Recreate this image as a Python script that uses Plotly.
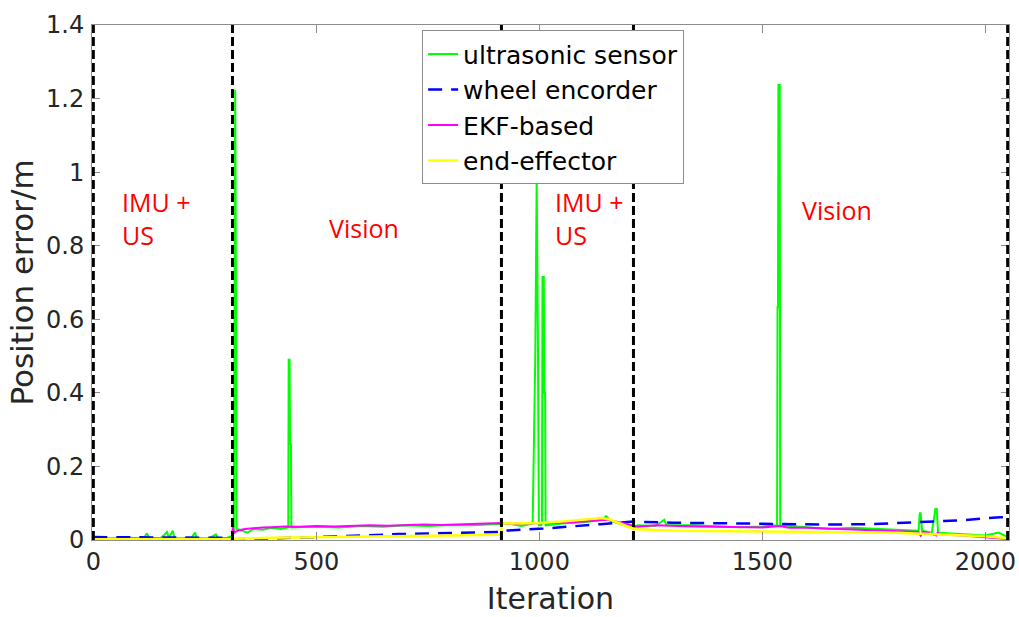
import plotly.graph_objects as go

# ---------------- data ----------------
us_iter = [0, 20, 40, 60, 80, 100, 115, 120, 125, 150, 160, 165, 170, 178, 182, 200, 220, 228, 232,
           260, 275, 280, 300, 310, 315, 317, 318, 320, 321, 330, 345, 360, 380, 400, 420, 437, 438,
           440, 441, 443, 444, 460, 500, 550, 600, 650, 700, 750, 800, 850, 900, 915, 930, 960, 985,
           991, 993, 994, 997, 998, 999, 1004, 1006, 1007, 1010, 1011, 1013, 1014, 1050, 1100, 1140,
           1150, 1160, 1211, 1220, 1260, 1280, 1285, 1350, 1400, 1450, 1500, 1533, 1534, 1535, 1536,
           1539, 1540, 1600, 1650, 1700, 1750, 1800, 1850, 1853, 1855, 1858, 1880, 1888, 1891, 1894,
           1950, 2000, 2030, 2050]
us_err = [0.004, 0.003, 0.005, 0.004, 0.006, 0.005, 0.008, 0.018, 0.006, 0.005, 0.015, 0.022, 0.006,
          0.025, 0.005, 0.004, 0.006, 0.02, 0.004, 0.005, 0.015, 0.004, 0.006, 0.01, 0.02, 1.223,
          1.223, 0.61, 0.03, 0.027, 0.02, 0.03, 0.028, 0.033, 0.03, 0.034, 0.49, 0.49, 0.26, 0.26,
          0.034, 0.035, 0.036, 0.034, 0.038, 0.036, 0.04, 0.038, 0.041, 0.04, 0.042, 0.043, 0.045,
          0.038, 0.045, 0.51, 0.98, 0.98, 0.51, 0.045, 0.04, 0.04, 0.045, 0.715, 0.715, 0.4, 0.4,
          0.04, 0.045, 0.048, 0.055, 0.065, 0.052, 0.032, 0.04, 0.038, 0.055, 0.04, 0.04, 0.037,
          0.035, 0.037, 0.04, 0.633, 0.633, 1.237, 1.237, 0.04, 0.035, 0.03, 0.033, 0.03, 0.028,
          0.025, 0.073, 0.073, 0.025, 0.02, 0.084, 0.084, 0.02, 0.015, 0.012, 0.02, 0.008]

we_iter = [0, 100, 200, 300, 312, 370, 450, 550, 684, 800, 915, 917, 1009, 1137, 1204, 1211, 1300,
           1361, 1450, 1550, 1650, 1742, 1850, 1950, 2033, 2050]
we_err = [0.008, 0.007, 0.007, 0.006, 0.002, 0.003, 0.006, 0.01, 0.016, 0.019, 0.022, 0.025, 0.031,
          0.043, 0.048, 0.05, 0.047, 0.046, 0.044, 0.043, 0.042, 0.043, 0.048, 0.054, 0.062, 0.062]

ekf_iter = [0, 100, 200, 300, 311, 313, 315, 318, 325, 340, 360, 380, 400, 430, 460, 500, 540, 580,
            620, 660, 700, 740, 780, 820, 860, 900, 915, 930, 1000, 1050, 1100, 1150, 1180, 1211,
            1220, 1260, 1300, 1350, 1400, 1450, 1500, 1540, 1560, 1600, 1650, 1700, 1750, 1800,
            1850, 1855, 1860, 1870, 1890, 1893, 1900, 1950, 2000, 2050]
ekf_err = [0.003, 0.003, 0.003, 0.003, 0.004, 0.04, 0.018, 0.022, 0.026, 0.03, 0.033, 0.034, 0.035,
           0.037, 0.036, 0.038, 0.037, 0.039, 0.04, 0.039, 0.041, 0.042, 0.041, 0.043, 0.044,
           0.045, 0.046, 0.044, 0.045, 0.047, 0.05, 0.055, 0.048, 0.04, 0.036, 0.04, 0.038,
           0.037, 0.036, 0.035, 0.034, 0.038, 0.033, 0.033, 0.031, 0.03, 0.027, 0.025, 0.022,
           0.012, 0.022, 0.02, 0.012, 0.02, 0.015, 0.012, 0.008, 0.003]

ee_iter = [0, 100, 200, 300, 312, 400, 500, 600, 700, 800, 900, 914, 916, 1000, 1050, 1100, 1140,
           1160, 1211, 1300, 1400, 1500, 1600, 1700, 1800, 1900, 2000, 2050]
ee_err = [0.002, 0.002, 0.002, 0.002, 0.003, 0.006, 0.007, 0.008, 0.01, 0.012, 0.014, 0.015, 0.045,
          0.046, 0.05, 0.055, 0.06, 0.055, 0.03, 0.025, 0.024, 0.022, 0.021, 0.02, 0.02, 0.015,
          0.01, 0.005]

phase_bounds = [0, 312, 915, 1211, 2050]
phase_labels = ["IMU +<br>US", "Vision", "IMU +<br>US", "Vision"]
label_x = [60, 525, 1031, 1585]
label_y = [0.875, 0.848, 0.875, 0.897]

series_names = ["ultrasonic sensor", "wheel encorder", "EKF-based", "end-effector"]

# ---------------- figure ----------------
fig = go.Figure()
fig.add_trace(go.Scatter(x=us_iter, y=us_err, mode="lines", name=series_names[0],
                         line=dict(color="#00ff00", width=2)))
fig.add_trace(go.Scatter(x=we_iter, y=we_err, mode="lines", name=series_names[1],
                         line=dict(color="#0000ff", width=2.5, dash="14px,9px")))
fig.add_trace(go.Scatter(x=ekf_iter, y=ekf_err, mode="lines", name=series_names[2],
                         line=dict(color="#ff00ff", width=2)))
fig.add_trace(go.Scatter(x=ee_iter, y=ee_err, mode="lines", name=series_names[3],
                         line=dict(color="#ffff00", width=2.5)))

for b in phase_bounds:
    fig.add_shape(type="line", xref="x", yref="y", x0=b, x1=b, y0=0, y1=1.4,
                  line=dict(color="black", width=3, dash="9px,4px"), layer="above")

for txt, xx, yy in zip(phase_labels, label_x, label_y):
    fig.add_annotation(x=xx, y=yy, xref="x", yref="y", text=txt, showarrow=False,
                       xanchor="left", yanchor="middle", align="left",
                       font=dict(family="Open Sans", size=25, color="#ff0000"))

axis_common = dict(showline=True, linecolor="#8c8c8c", linewidth=1, mirror="ticks",
                   ticks="inside", ticklen=8, tickcolor="#8c8c8c", showgrid=False,
                   zeroline=False, tickfont=dict(family="DejaVu Sans", size=24, color="#262626"))

fig.update_xaxes(range=[-3, 2053], tickvals=[0, 500, 1000, 1500, 2000], ticklabelstandoff=0,
                 title=dict(text="Iteration", font=dict(family="DejaVu Sans", size=30, color="#262626"),
                            standoff=13),
                 **axis_common)
fig.update_yaxes(range=[0, 1.4], tickvals=[0, 0.2, 0.4, 0.6, 0.8, 1.0, 1.2, 1.4],
                 ticktext=["0", "0.2", "0.4", "0.6", "0.8", "1", "1.2", "1.4"], ticklabelstandoff=2,
                 title=dict(text="Position error/m", font=dict(family="DejaVu Sans", size=31, color="#262626"),
                            standoff=3),
                 **axis_common)

fig.update_layout(
    width=1019, height=617,
    margin=dict(l=92, r=10, t=25, b=77, autoexpand=False),
    paper_bgcolor="white", plot_bgcolor="white",
    showlegend=True,
    legend=dict(x=0.36, y=0.99, xanchor="left", yanchor="top",
                bgcolor="white", bordercolor="#8c8c8c", borderwidth=1,
                font=dict(family="DejaVu Sans", size=25, color="black"),
                tracegroupgap=0, itemwidth=30),
)

fig.write_html("out.html", config={"displayModeBar": False},
               post_script="document.body.style.margin='0px';")
